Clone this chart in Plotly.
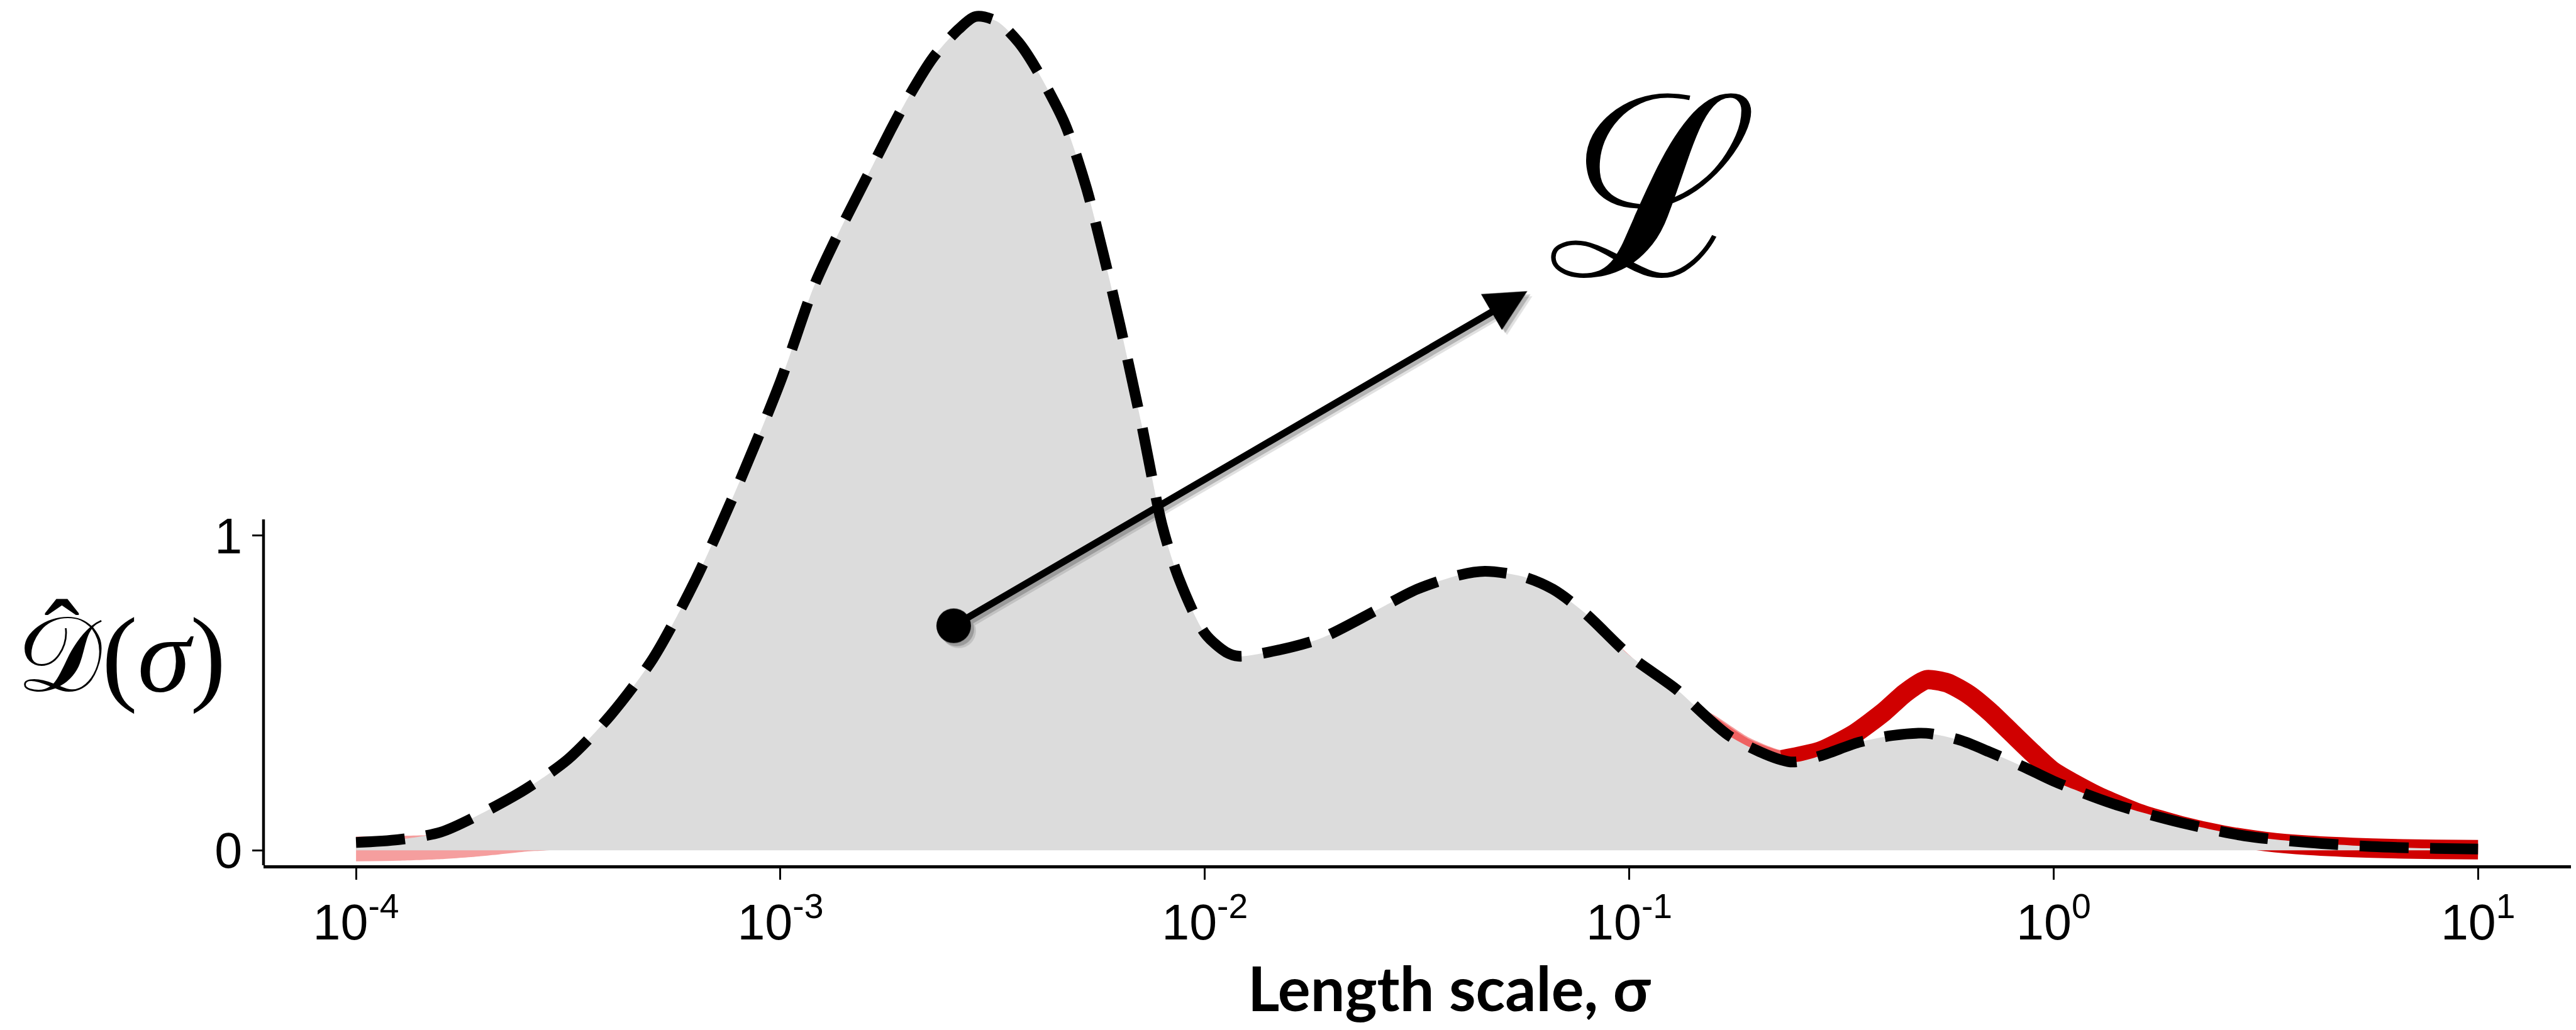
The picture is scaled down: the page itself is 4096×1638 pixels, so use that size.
import numpy as np
import plotly.graph_objects as go

# ---- data ---------------------------------------------------------------
# reference (true) length-scale distribution, sampled on log10(sigma)
log_sigma_true = [-4.00, -3.90, -3.80, -3.70, -3.60, -3.50, -3.40, -3.30, -3.20,
                  -3.10, -3.00, -2.92, -2.86, -2.80, -2.74, -2.70, -2.64, -2.58,
                  -2.54, -2.49, -2.44, -2.40, -2.33, -2.28, -2.24, -2.20, -2.15,
                  -2.10, -2.06, -2.00, -1.95, -1.92, -1.85, -1.73, -1.60, -1.50,
                  -1.40, -1.34, -1.25, -1.18, -1.105, -1.00, -0.89, -0.76, -0.62,
                  -0.55, -0.46, -0.38, -0.30, -0.22, -0.15, -0.07, 0.00, 0.14,
                  0.30, 0.45, 0.60, 0.75, 0.90, 1.00]
d_true = [0.025, 0.034, 0.058, 0.120, 0.195, 0.290, 0.430, 0.610, 0.860,
          1.160, 1.490, 1.796, 1.970, 2.130, 2.290, 2.390, 2.520, 2.610,
          2.650, 2.635, 2.570, 2.490, 2.310, 2.110, 1.900, 1.670, 1.360,
          1.030, 0.860, 0.690, 0.630, 0.617, 0.630, 0.672, 0.760, 0.830,
          0.875, 0.887, 0.870, 0.830, 0.755, 0.620, 0.513, 0.360, 0.281,
          0.300, 0.343, 0.365, 0.372, 0.350, 0.312, 0.265, 0.220, 0.148,
          0.088, 0.046, 0.025, 0.012, 0.006, 0.004]

# recovered distribution (posterior mean) where it is resolved
log_sigma_est = [-0.64, -0.55, -0.47, -0.40, -0.35, -0.30, -0.25, -0.20, -0.15,
                 -0.10, -0.05, 0.00, 0.10, 0.20, 0.30, 0.40, 0.50, 0.60, 0.75,
                 0.90, 1.00]
d_est = [0.288, 0.315, 0.370, 0.440, 0.500, 0.542, 0.532, 0.495, 0.440,
         0.375, 0.310, 0.250, 0.175, 0.118, 0.078, 0.048, 0.028, 0.016, 0.007,
         0.003, 0.002]

# credible intervals of the recovered distribution
log_sigma_band = [-4.00, -3.90, -3.80, -3.70, -3.60, -3.50, -3.30, -3.00, -2.70,
                  -2.54, -2.30, -2.10, -1.95, -1.70, -1.40, -1.10, -0.90, -0.80,
                  -0.72, -0.64, -0.55, -0.47, -0.40, -0.35, -0.30, -0.25, -0.20,
                  -0.15, -0.10, -0.05, 0.00, 0.10, 0.20, 0.30, 0.40, 0.50, 0.60,
                  0.75, 0.90, 1.00]
outer_lo = [-0.035, -0.033, -0.028, -0.018, -0.004, 0.010, 0.200, 0.900, 1.900,
            2.200, 1.700, 0.700, 0.450, 0.500, 0.650, 0.600, 0.400, 0.300,
            0.250, 0.262, 0.295, 0.350, 0.420, 0.480, 0.522, 0.512, 0.475,
            0.420, 0.355, 0.290, 0.230, 0.155, 0.098, 0.058, 0.028, 0.008,
            -0.004, -0.013, -0.017, -0.018]
outer_hi = [0.044, 0.046, 0.050, 0.070, 0.100, 0.160, 0.420, 1.250, 2.200,
            2.450, 2.000, 0.900, 0.550, 0.620, 0.800, 0.720, 0.500, 0.430,
            0.360, 0.318, 0.335, 0.390, 0.460, 0.520, 0.562, 0.552, 0.515,
            0.460, 0.395, 0.330, 0.270, 0.195, 0.138, 0.098, 0.066, 0.046,
            0.032, 0.022, 0.018, 0.016]
inner_lo = [0.003, 0.005, 0.010, 0.030, 0.080, 0.120, 0.350, 1.100, 2.100,
            2.350, 1.850, 0.800, 0.500, 0.570, 0.750, 0.660, 0.450, 0.360,
            0.290, 0.270, 0.300, 0.355, 0.425, 0.485, 0.527, 0.517, 0.480,
            0.425, 0.360, 0.295, 0.235, 0.160, 0.103, 0.063, 0.033, 0.013,
            0.001, -0.008, -0.012, -0.013]
inner_hi = [0.020, 0.025, 0.040, 0.090, 0.150, 0.220, 0.500, 1.350, 2.300,
            2.500, 2.100, 0.950, 0.570, 0.640, 0.820, 0.730, 0.500, 0.425,
            0.355, 0.316, 0.330, 0.385, 0.455, 0.515, 0.557, 0.547, 0.510,
            0.455, 0.390, 0.325, 0.265, 0.190, 0.133, 0.093, 0.063, 0.043,
            0.031, 0.022, 0.018, 0.017]

tick_exponents = [-4, -3, -2, -1, 0, 1]
y_ticks = [0, 1]

# arrow from the initial guess towards the loss label (log10 sigma, D)
arrow_tail = (-2.594, 0.712)
arrow_tip = (-1.240, 1.777)

# ---- figure -------------------------------------------------------------
W, H = 4096, 1638
PLOT_L, PLOT_R, PLOT_T, PLOT_B = 419, 4088, 0, 1376
X_RANGE = [-4.218, 1.219]
Y_RANGE = [-0.0474, 2.7025]
Y_SPINE_TOP = 1.052

def sig(logs):
    return np.power(10.0, np.asarray(logs, dtype=float))

def px_to_paper(xp, yp):
    return ((xp - PLOT_L) / (PLOT_R - PLOT_L),
            (PLOT_B - yp) / (PLOT_B - PLOT_T))

band_col = "rgba(228,0,0,0.38)"
fig = go.Figure()

for lo, hi in [(outer_lo, outer_hi), (inner_lo, inner_hi)]:
    fig.add_trace(go.Scatter(x=sig(log_sigma_band), y=lo, mode="lines",
                             line=dict(width=0, shape="spline", smoothing=0.6),
                             hoverinfo="skip", showlegend=False))
    fig.add_trace(go.Scatter(x=sig(log_sigma_band), y=hi, mode="lines",
                             line=dict(width=0, shape="spline", smoothing=0.6),
                             fill="tonexty", fillcolor=band_col,
                             hoverinfo="skip", showlegend=False))

fig.add_trace(go.Scatter(x=sig(log_sigma_est), y=d_est, mode="lines",
                         line=dict(color="#d00000", width=31, shape="spline",
                                   smoothing=0.6),
                         showlegend=False))

fig.add_trace(go.Scatter(x=sig(log_sigma_true), y=d_true, mode="lines",
                         line=dict(width=0, shape="spline", smoothing=0.8),
                         fill="tozeroy", fillcolor="#dcdcdc",
                         hoverinfo="skip", showlegend=False))

fig.add_trace(go.Scatter(x=sig(log_sigma_true), y=d_true, mode="lines",
                         line=dict(color="black", width=17, dash="78px,34px",
                                   shape="spline", smoothing=0.8),
                         showlegend=False))

tick_font = dict(family="Liberation Sans, Arial, sans-serif", size=79, color="black")

fig.update_layout(
    width=W, height=H,
    margin=dict(l=PLOT_L, r=W - PLOT_R, t=PLOT_T, b=H - PLOT_B, pad=0),
    paper_bgcolor="white", plot_bgcolor="white",
    showlegend=False,
    xaxis=dict(type="log", range=X_RANGE, showgrid=False, zeroline=False,
               showline=True, linecolor="black", linewidth=4.5,
               ticks="outside", ticklen=18, tickwidth=2.7, tickcolor="black",
               tickvals=[10.0 ** e for e in tick_exponents],
               ticktext=["10<sup>%d</sup>" % e for e in tick_exponents],
               tickfont=tick_font, automargin=False),
    yaxis=dict(range=Y_RANGE, showgrid=False, zeroline=False, showline=False,
               ticks="outside", ticklen=17, tickwidth=2.7, tickcolor="black",
               tickvals=y_ticks, ticktext=[str(v) for v in y_ticks],
               tickfont=tick_font, automargin=False),
)

# left spine, only spanning the [0, 1] region
y_top_paper = (Y_SPINE_TOP - Y_RANGE[0]) / (Y_RANGE[1] - Y_RANGE[0])
fig.add_shape(type="line", xref="paper", yref="paper", x0=0, x1=0, y0=0,
              y1=y_top_paper, line=dict(color="black", width=4.5))

# arrow with soft drop shadow
for shift, col in [((8, -8), "rgba(0,0,0,0.12)"), ((5, -5), "rgba(0,0,0,0.2)"),
                   ((0, 0), "black")]:
    fig.add_annotation(x=arrow_tip[0], y=arrow_tip[1], xref="x", yref="y",
                       ax=arrow_tail[0], ay=arrow_tail[1], axref="x", ayref="y",
                       text="", showarrow=True, arrowhead=2, arrowsize=1.2,
                       arrowwidth=11, arrowcolor=col, arrowside="end+start",
                       startarrowhead=6, startarrowsize=1.25,
                       xshift=shift[0], yshift=shift[1])

# loss label
lx, ly = px_to_paper(2628, 299)
fig.add_annotation(x=lx, y=ly, xref="paper", yref="paper", text="ℒ",
                   showarrow=False, xanchor="center", yanchor="middle",
                   font=dict(family="DejaVu Serif", size=400, color="black"))

# y label: D-hat(sigma), with the hat set as its own accent glyph
yx, yy = px_to_paper(192, 1042)
fig.add_annotation(x=yx, y=yy, xref="paper", yref="paper",
                   text="𝒟(<i>σ</i>)", showarrow=False,
                   xanchor="center", yanchor="middle",
                   font=dict(family="Liberation Serif, DejaVu Serif", size=170,
                             color="black"))
hx, hy = px_to_paper(98, 1014)
fig.add_annotation(x=hx, y=hy, xref="paper", yref="paper", text="ˆ",
                   showarrow=False, xanchor="center", yanchor="middle",
                   font=dict(family="Liberation Serif", size=170, color="black"))

# x title
tx, ty = px_to_paper(2305, 1570)
fig.add_annotation(x=tx, y=ty, xref="paper", yref="paper",
                   text="<b>Length scale, σ</b>", showarrow=False,
                   xanchor="center", yanchor="middle",
                   font=dict(family="Lato, sans-serif", size=97, color="black"))

fig.write_html("out.html")
